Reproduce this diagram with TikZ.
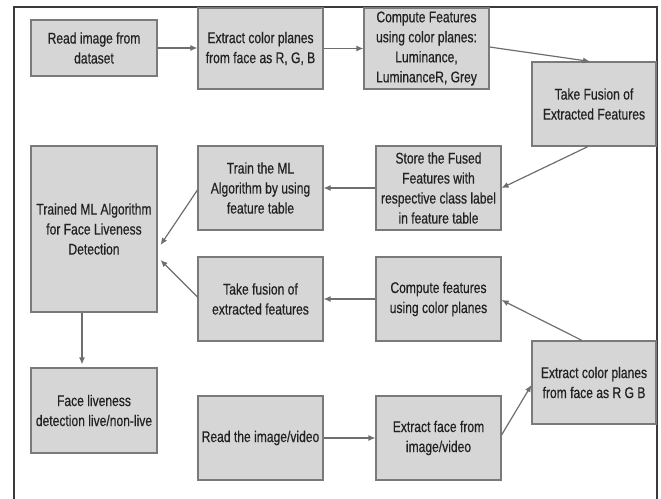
\documentclass[tikz,border=0pt]{standalone}
\usepackage{fontspec}
\setmainfont[FakeStretch=0.78,FakeBold=0.5]{Liberation Sans}
\usetikzlibrary{arrows.meta,shadows}
\definecolor{boxfill}{HTML}{D6D6D6}
\definecolor{boxline}{HTML}{7A7A7A}
\definecolor{arrowcol}{HTML}{6E6E6E}
\definecolor{textcol}{HTML}{222222}
\definecolor{framecol}{HTML}{3A3A3A}
\tikzset{
  stepbox/.style={draw=boxline, fill=boxfill, line width=1.1pt, inner sep=0pt,
    minimum width=125pt, minimum height=84pt, align=center, text=textcol,
    font=\fontsize{15.5}{20}\selectfont,
    drop shadow={shadow xshift=0.8pt, shadow yshift=-0.8pt, fill=gray!70, opacity=0.8}},
  flow/.style={draw=arrowcol, line width=1.2pt, -{Latex[length=7pt,width=6pt]}}
}
\begin{document}
\begin{tikzpicture}[x=1pt,y=-1pt]
\useasboundingbox (0,0) rectangle (661,498);
\begin{scope}
\clip (0,0) rectangle (661,498);
\draw[framecol, line width=1.4pt] (14,520) -- (14,7) -- (657,7) -- (657,520);
\end{scope}
% top row
\node[stepbox, minimum width=126pt, minimum height=56pt] (b1) at (94,48) {Read image from\\dataset};
\node[stepbox, minimum height=81pt] (b2) at (260.5,48.5) {Extract color planes\\from face as R, G, B};
\node[stepbox, minimum height=81pt] (b3) at (426.5,48.5) {Compute Features\\using color planes:\\Luminance,\\LuminanceR, Grey};
\node[stepbox, minimum width=124pt] (b4) at (594,104) {Take Fusion of\\Extracted Features};
% second row
\node[stepbox] (b5) at (438.5,188) {Store the Fused\\Features with\\respective class label\\in feature table};
\node[stepbox] (b6) at (260.5,188) {Train the ML\\Algorithm by using\\feature table};
\node[stepbox, minimum width=126pt, minimum height=166pt] (b7) at (94,229) {Trained ML Algorithm\\for Face Liveness\\Detection};
% third row
\node[stepbox] (b8) at (260.5,299) {Take fusion of\\extracted features};
\node[stepbox] (b9) at (438.5,299) {Compute features\\using color planes};
\node[stepbox, minimum width=124pt, minimum height=83pt] (b10) at (594,382.5) {Extract color planes\\from face as R G B};
% bottom row
\node[stepbox, minimum width=126pt, minimum height=85pt] (b11) at (94,410.5) {Face liveness\\detection live/non-live};
\node[stepbox] (b12) at (260.5,438) {Read the image/video};
\node[stepbox] (b13) at (438.5,438) {Extract face from\\image/video};
% connectors
\draw[flow] (b1.east) -- (b1.east -| b2.west);
\draw[flow] (b2.east) -- (b3.west);
\draw[flow] ([yshift=1.5pt]b3.east) -- ([xshift=-4pt]b4.north);
\draw[flow] ([xshift=-6pt]b4.south) -- (b5.east);
\draw[flow] (b5.west) -- (b6.east);
\draw[flow] ([yshift=-2pt]b6.west) -- ([xshift=3pt,yshift=-16pt]b7.east);
\draw[flow] ([yshift=2pt]b8.west) -- ([xshift=3pt,yshift=-31pt]b7.east);
\draw[flow] (b9.west) -- (b8.east);
\draw[flow] ([xshift=-12pt]b10.north) -- ([yshift=-1pt]b9.east);
\draw[flow] ([yshift=3pt]b13.east) -- ([yshift=-2.5pt]b10.west);
\draw[flow] (b12.east) -- (b13.west);
\draw[flow] ([xshift=-12pt]b7.south) -- ([xshift=-12pt,yshift=3pt]b11.north);
\end{tikzpicture}
\end{document}
